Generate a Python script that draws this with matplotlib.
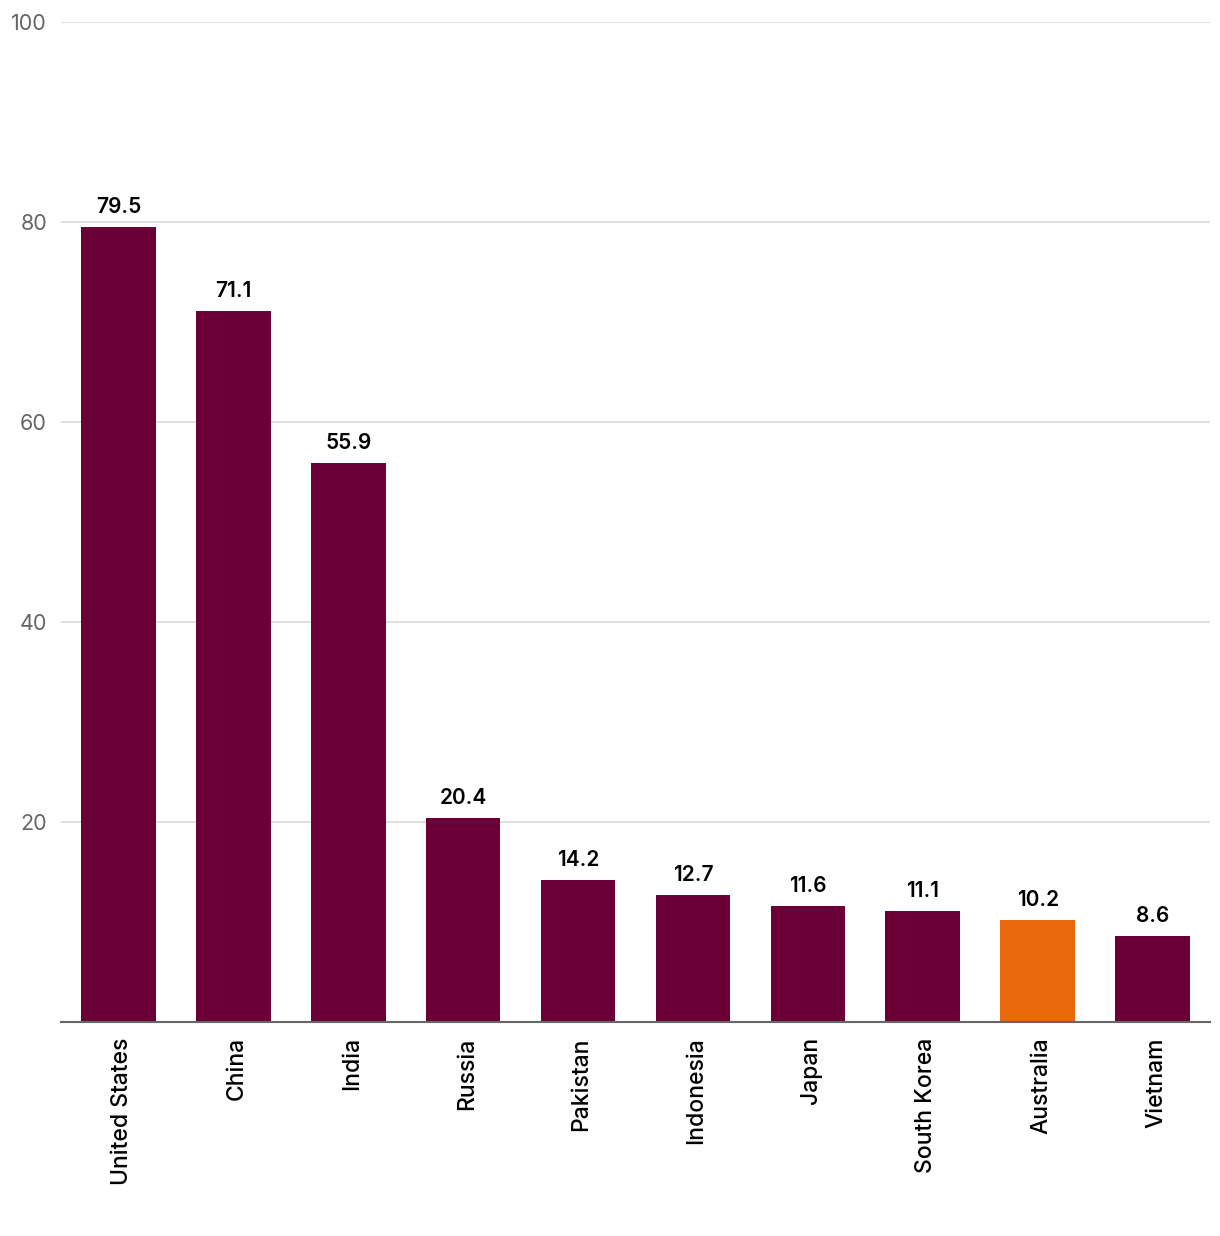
import matplotlib
matplotlib.use("Agg")
import matplotlib.pyplot as plt
from matplotlib.transforms import ScaledTranslation

countries = ["United States", "China", "India", "Russia", "Pakistan", "Indonesia",
             "Japan", "South Korea", "Australia", "Vietnam"]
values = [79.5, 71.1, 55.9, 20.4, 14.2, 12.7, 11.6, 11.1, 10.2, 8.6]
highlight = "Australia"
yticks = [20, 40, 60, 80, 100]

plt.rcParams['font.family'] = ['Inter', 'DejaVu Sans']

fig = plt.figure(figsize=(12.2, 12.36), dpi=100)
ax = fig.add_axes([61/1220, 214/1236, 1149/1220, 1000/1236])

colors = ["#e8680c" if c == highlight else "#6b0036" for c in countries]
x = list(range(len(countries)))
bars = ax.bar(x, values, width=0.65, color=colors, zorder=3)
for xi, v in zip(x, values):
    ax.annotate(f"{v}", (xi, v), xytext=(0, 7), textcoords="offset points",
                ha="center", va="bottom", fontsize=15, fontweight="semibold", color="#000000")

ax.set_xlim(-0.5, len(countries) - 0.5)
ax.set_ylim(0, 100)
ax.set_yticks(yticks)
ax.set_yticklabels([str(t) for t in yticks], fontsize=15.5, color="#666666")
ax.yaxis.grid(True, color="#d9d9d9", linewidth=1.2, zorder=0)
ax.tick_params(axis="y", length=0, pad=10)
ax.set_xticks(x)
ax.set_xticklabels(countries, rotation=90, fontsize=16.5, fontweight="medium", color="#000000")
ax.tick_params(axis="x", length=0, pad=11)
offset = ScaledTranslation(3.5/100, 0, fig.dpi_scale_trans)
for lbl in ax.get_xticklabels():
    lbl.set_transform(lbl.get_transform() + offset)
for s in ["top", "right", "left"]:
    ax.spines[s].set_visible(False)
ax.spines["bottom"].set_color("#666666")
ax.spines["bottom"].set_linewidth(1.5)
ax.spines["bottom"].set_zorder(4)

fig.savefig("out.png", dpi=100)
